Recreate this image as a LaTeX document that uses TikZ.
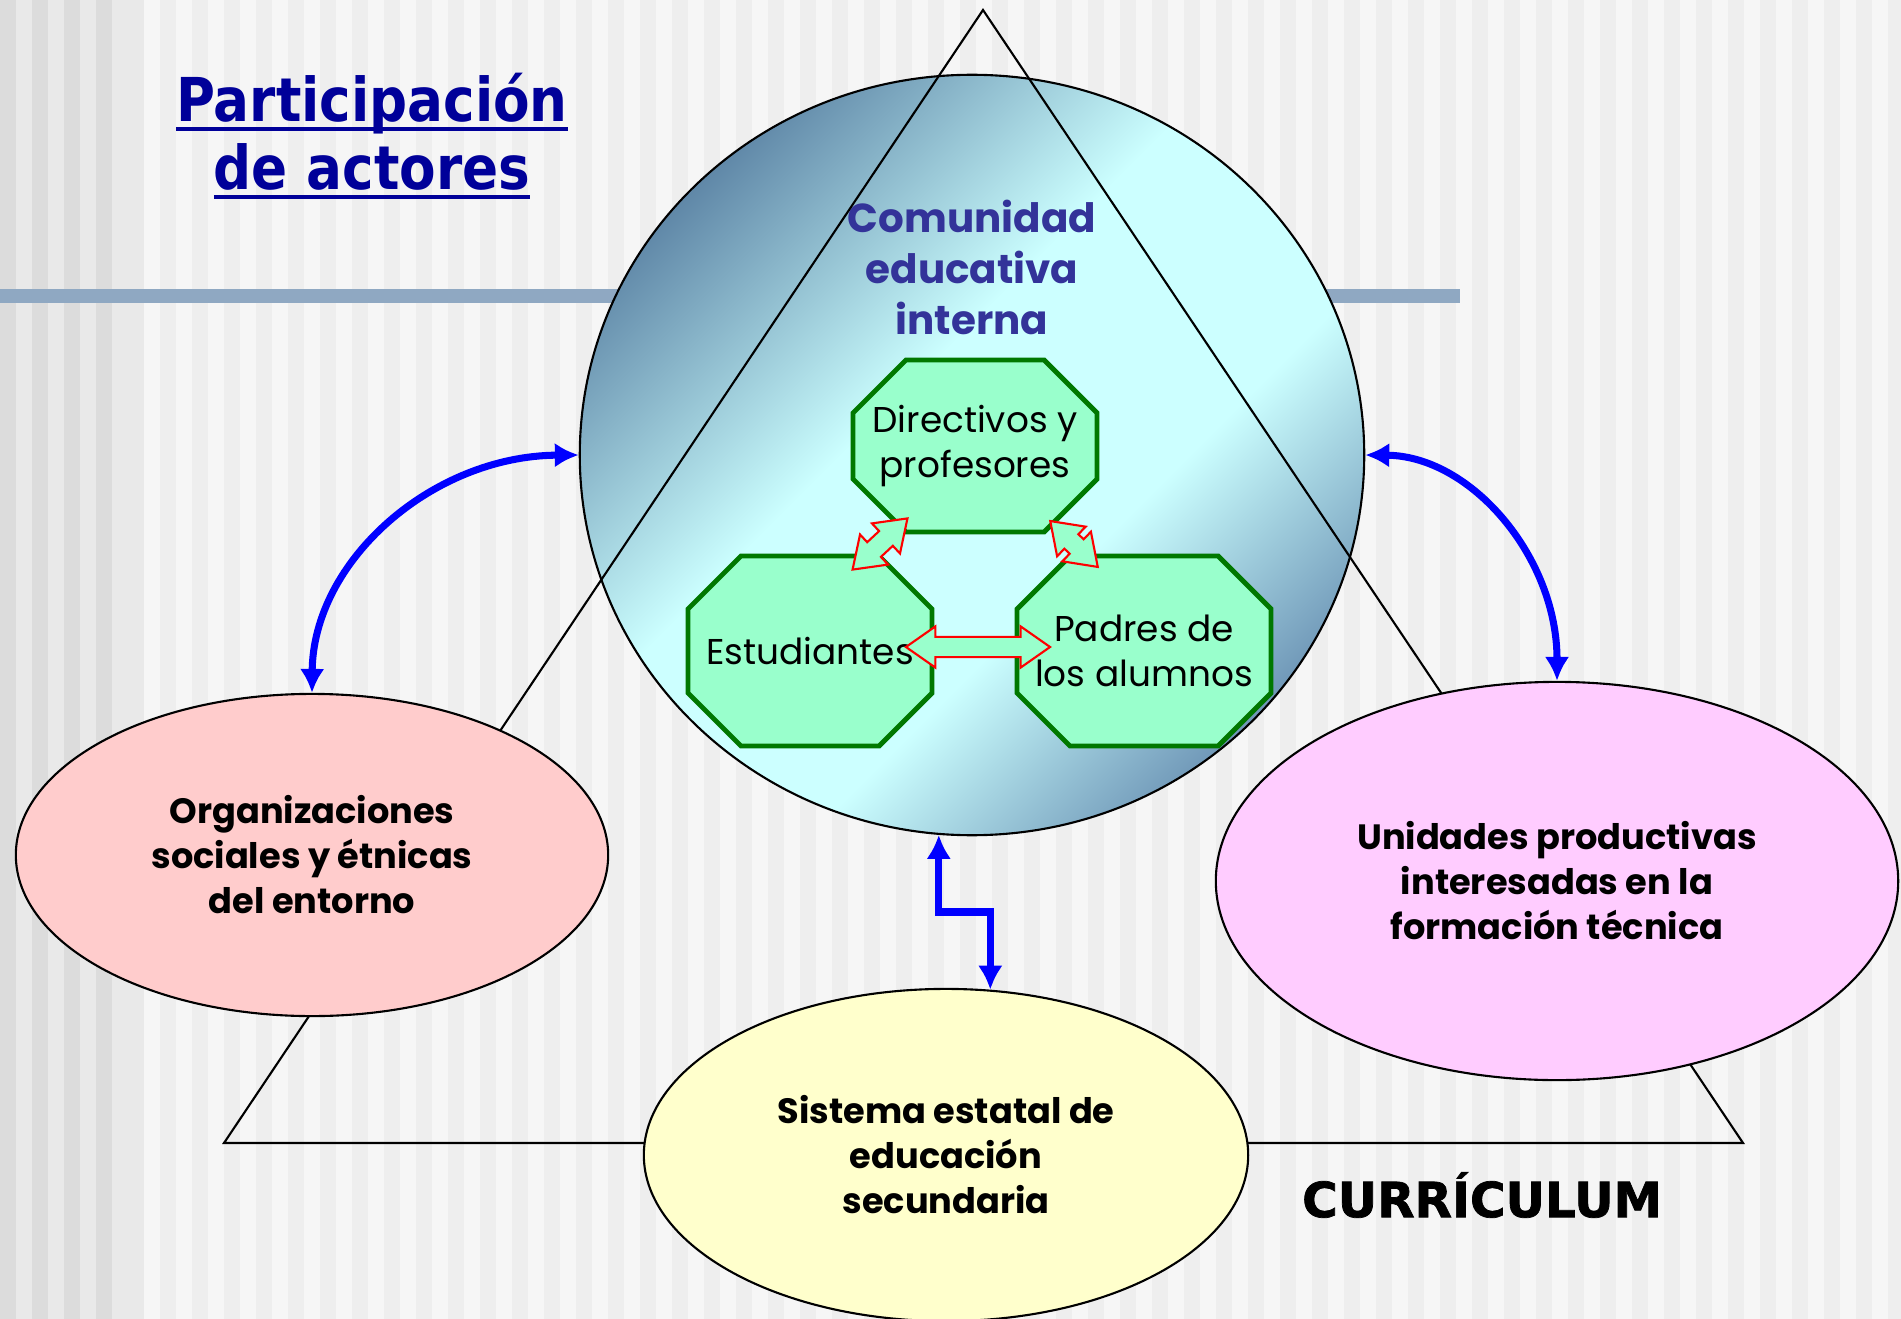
\documentclass[tikz,border=0pt]{standalone}
\usepackage{fontspec}
\setmainfont{Poppins}
\newfontfamily\titlefont{DejaVu Sans}[FakeStretch=0.88]
\newfontfamily\currfont{DejaVu Sans}[BoldFeatures={FakeBold=1.5}]
\usetikzlibrary{shapes.geometric,shapes.arrows,arrows.meta,calc}

\definecolor{titblue}{RGB}{0,0,153}
\definecolor{comblue}{RGB}{51,51,153}
\definecolor{barblue}{RGB}{143,168,194}
\definecolor{octfill}{RGB}{153,255,204}
\definecolor{octline}{RGB}{0,120,0}
\definecolor{pinkfill}{RGB}{255,204,204}
\definecolor{magfill}{RGB}{255,204,255}
\definecolor{yelfill}{RGB}{255,255,204}
\definecolor{bublight}{RGB}{204,255,255}
\definecolor{bubtop}{RGB}{96,136,168}
\definecolor{bubbot}{RGB}{112,152,184}
\definecolor{stripedark}{RGB}{233,233,233}
\definecolor{stripedarker}{RGB}{220,220,220}
\definecolor{stripelight}{RGB}{246,246,246}
\definecolor{stripemid}{RGB}{238,238,238}

\pgfdeclareverticalshading{bubble}{100bp}{color(0bp)=(bubbot); color(25bp)=(bubbot); color(40bp)=(bublight); color(56bp)=(bublight); color(75bp)=(bubtop); color(100bp)=(bubtop)}

% thick underline for the heading
\def\thickul#1{\vtop{\hbox{\raisebox{0pt}[\height][0pt]{#1}}\kern1.6pt\hrule height 1.1pt}}
% octagon: name, x, y, half width, half height, text
\def\octbox#1#2#3#4#5#6{%
  \filldraw[octo] (#2-#4+53,#3-#5) -- (#2+#4-53,#3-#5) -- (#2+#4,#3-#5+53) -- (#2+#4,#3+#5-53)
    -- (#2+#4-53,#3+#5) -- (#2-#4+53,#3+#5) -- (#2-#4,#3+#5-53) -- (#2-#4,#3-#5+53) -- cycle;
  \node[octtext] (#1) at (#2,#3) {#6};}

\tikzset{
  actor/.style={ellipse, draw=black, line width=0.6pt, align=center, inner sep=0pt,
    font=\bfseries\fontsize{10}{12.8}\selectfont},
  octo/.style={draw=octline, line width=1.4pt, fill=octfill, line join=miter},
  octtext/.style={align=center, inner sep=0pt, font=\fontsize{10.2}{12.8}\selectfont},
  dblarr/.style={double arrow, draw=red, fill=octfill, line width=0.6pt, inner xsep=0pt, inner ysep=0.09cm,
    minimum width=0pt, double arrow head extend=0.105cm, double arrow tip angle=70},
  bluelink/.style={draw=blue, line width=2pt, {Latex[length=6.8pt,width=7pt]}-{Latex[length=6.8pt,width=7pt]}}
}

\begin{document}
\begin{tikzpicture}[x=0.01cm, y=-0.01cm]
  \useasboundingbox (0,0) rectangle (1901,1319);

  % background stripes
  \fill[stripedark] (0,0) rectangle (144,1319);
  \foreach \sx in {0,32,...,112}
    \fill[stripedarker] (\sx,0) rectangle ++(16,1319);
  \fill[stripelight] (144,0) rectangle (1901,1319);
  \foreach \sx in {160,192,...,1888}
    \fill[stripemid] (\sx,0) rectangle ++(16,1319);
  \fill[barblue] (0,289) rectangle (1460,303);

  % inner community
  \node[ellipse, draw=black, line width=0.6pt, shading=bubble, shading angle=45,
    minimum width=7.84cm, minimum height=7.60cm] (comunidad) at (972,455) {};
  \node[text=comblue, font=\bfseries\fontsize{11.5}{14.5}\selectfont, align=center] (comtxt) at (972,267)
    {Comunidad\\educativa\\interna};

  % curriculum triangle
  \draw[line width=0.6pt] (983,10) -- (224,1143) -- (1743,1143) -- cycle;

  % outer actors
  \node[actor, fill=pinkfill, minimum width=5.92cm, minimum height=3.22cm] (organiz) at (312,855)
    {Organizaciones\\sociales y étnicas\\del entorno};
  \node[actor, fill=magfill, minimum width=6.82cm, minimum height=3.98cm] (unidades) at (1557,881)
    {Unidades productivas\\interesadas en la\\formación técnica};
  \node[actor, fill=yelfill, minimum width=6.04cm, minimum height=3.32cm] (sistema) at (946,1155)
    {Sistema estatal de\\educación\\secundaria};

  % octagons
  \octbox{direct}{975}{446}{122}{86}{Directivos y\\profesores}
  \octbox{estud}{810}{651}{122}{95}{Estudiantes}
  \octbox{padres}{1144}{651}{127}{95}{Padres de\\los alumnos}

  \node[dblarr, minimum height=0.75cm, rotate=43] (aDE) at (880,544) {};
  \node[dblarr, minimum height=0.66cm, rotate=-44] (aDP) at (1074,544) {};
  \node[dblarr, minimum height=1.44cm] (aEP) at (978,647) {};

  % links
  \draw[bluelink] (organiz.north) .. controls (313,561) and (432,456) .. (comunidad.west);
  \draw[bluelink] (comunidad.east) .. controls (1471,456) and (1557,557) .. (unidades.north);
  \coordinate (zz) at (965,912);
  \draw[bluelink] (comunidad.265) |- (zz) -| (sistema.75);

  \node[font=\currfont\bfseries\fontsize{13.8}{16}\selectfont] (curric) at (1482,1195) {CURRÍCULUM};
  \node[text=titblue, font=\titlefont\bfseries\fontsize{17.2}{19.5}\selectfont, align=center] (titulo) at (372,136)
    {\thickul{Participación}\\\thickul{de actores}};
\end{tikzpicture}
\end{document}
